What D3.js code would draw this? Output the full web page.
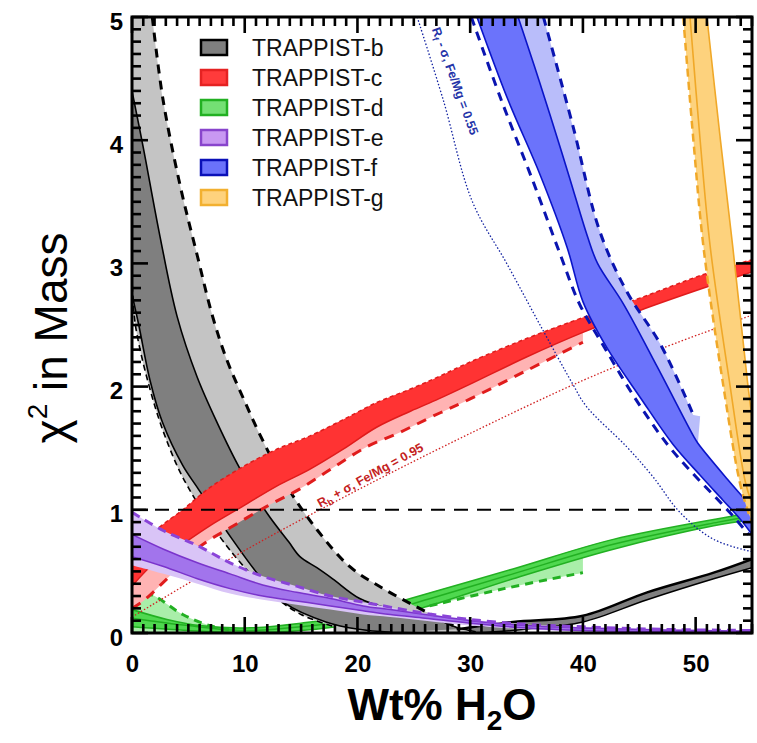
<!DOCTYPE html>
<html>
<head>
<meta charset="utf-8">
<script src="https://cdn.jsdelivr.net/npm/d3@7"></script>
<style>
  body { margin: 0; background: #fff; }
  svg { display: block; font-family: "Liberation Sans", Arial, sans-serif; }
</style>
</head>
<body>
<svg id="chart" width="757" height="743"></svg>
<script>
// ---- data: [wt% H2O, chi^2] ----
const xTicks = [0, 10, 20, 30, 40, 50];
const yTicks = [0, 1, 2, 3, 4, 5];
const xMinor = d3.range(0, 56, 1);
const yMinor = d3.range(0, 51, 1).map(v => v / 10);
const planets = ["TRAPPIST-b", "TRAPPIST-c", "TRAPPIST-d", "TRAPPIST-e", "TRAPPIST-f", "TRAPPIST-g"];

// b (grey)
const bDashR = [[1.8,5],[2.75,4.33],[4.3,3.62],[5.8,3.06],[7.15,2.57],[8.4,2.22],[9.9,1.9],[11.4,1.6],[13.75,1.19],[16.4,0.84],[19.3,0.54],[22.3,0.36],[25.3,0.21],[27,0.13],[28.5,0.06]];
const bDashL = [[0,2.9],[0.3,2.5],[2,1.85],[3.7,1.42],[5,1.18],[7.8,0.78],[10.3,0.5],[12.3,0.32],[15,0.15],[18,0.05]];
const bSolidR = [[0,4.4],[0.98,3.95],[2.48,3.22],[4,2.57],[5.77,2.08],[7.54,1.71],[9.6,1.33],[12,0.97],[13.9,0.74],[14.9,0.62],[16.4,0.53],[17.8,0.44],[20.2,0.28],[23.1,0.19],[26.7,0.12],[29,0.04],[30.5,0.01]];
const bSolidL = [[0,2.75],[0.6,2.5],[1.6,2.05],[2.7,1.71],[4.5,1.36],[5.8,1.18],[8.9,0.76],[11.5,0.44],[13.6,0.24],[17.2,0.09],[20.1,0.03],[23,0.005]];
const bRiseUp = [[28.8,0.03],[33.8,0.09],[40,0.14],[45.7,0.33],[51.6,0.49],[55,0.6]];
const bRiseLo = [[30.5,0],[35,0.03],[40,0.09],[45.7,0.27],[51.6,0.44],[55,0.53]];

// c (red)
const cTop = [[0,0.6],[1,0.72],[2.2,0.84],[4.5,1.0],[6.9,1.18],[9.85,1.35],[12.8,1.49],[15.8,1.6],[18.7,1.73],[21.7,1.87],[24.7,1.98],[27.2,2.08],[30,2.2],[35,2.39],[40,2.56],[45.1,2.72],[50.7,2.91],[55,3.03]];
const cBot = [[0,0.38],[2,0.57],[4.3,0.71],[6.9,0.87],[9.85,1.03],[12.8,1.19],[15.8,1.33],[18.7,1.49],[21.7,1.67],[24.7,1.8],[27.2,1.9],[30,2.02],[35,2.24],[40,2.44],[45.1,2.62],[50.7,2.8],[55,2.93]];
const cDash = [[0,0.2],[1,0.26],[3.1,0.44],[6,0.7],[9,0.87],[12,1.03],[14.9,1.17],[17.8,1.34],[20.8,1.51],[23.8,1.63],[26.7,1.76],[30,1.9],[35,2.13],[40,2.36]];
const cDot = [[0,0.13],[10,0.67],[20,1.16],[30,1.62],[40,2.05],[47,2.31],[55,2.58]];

// d (green)
const dLobe = [[0,0.3],[1.2,0.33],[2.2,0.29],[4.5,0.15],[6.9,0.06],[9,0.02],[11,0]];
const dDashL = [[1.2,0.33],[2.2,0.29],[4.5,0.15],[6.9,0.06],[9,0.02]];
const dDashR = [[26.4,0.22],[33,0.36],[40,0.49]];
const dTop = [[0,0.19],[3.1,0.11],[6,0.06],[10,0.04],[15,0.08],[20,0.15],[24.7,0.28],[33.8,0.52],[42.7,0.76],[53.3,0.95],[55,0.98]];
const dMid = [[0,0.12],[5,0.06],[10,0.02],[15,0.05],[20,0.115],[25,0.24],[33.8,0.48],[42.7,0.72],[52,0.9],[55,0.95]];
const dBot = [[0,0.05],[5,0.02],[10,0],[15,0.02],[20,0.08],[25.6,0.2],[33.8,0.44],[42.7,0.68],[51.6,0.87],[55,0.92]];

// e (purple)
const eDash = [[0,0.98],[2.8,0.83],[5.8,0.71],[8.7,0.57],[11.6,0.46],[14.6,0.38],[17.6,0.3],[20.5,0.25],[22.9,0.21],[26,0.16],[30,0.11],[35,0.07],[40,0.05],[47,0.03],[55,0.02]];
const eTop = [[0,0.8],[2.8,0.68],[5.8,0.57],[8.7,0.48],[11.6,0.39],[14.6,0.33],[17.6,0.28],[20.5,0.22],[22.9,0.19],[26,0.15],[30,0.1],[35,0.06],[40,0.04],[47,0.025],[55,0.015]];
const eBot = [[0,0.62],[2.8,0.54],[5.8,0.44],[8.7,0.36],[11.6,0.3],[14.6,0.26],[17.6,0.22],[20.5,0.18],[22.9,0.15],[26,0.12],[30,0.08],[35,0.04],[40,0.02],[47,0.01],[55,0.005]];
const eLow = [[0,0.55],[2.8,0.48],[5.8,0.4],[8.7,0.32],[11.6,0.27],[14.6,0.23],[17.6,0.19],[20.5,0.15],[22.9,0.13],[26,0.1],[30,0.06],[35,0.03],[40,0.01],[47,0.005],[55,0]];

// f (blue)
const fLeftDash = [[30.1,5],[32.7,4.34],[35.6,3.66],[38,3.07],[39.7,2.67],[41.9,2.32],[44.6,1.91],[47.5,1.53],[49.9,1.28],[52,1.08],[53.6,0.92],[54.7,0.8]];
const fLeftSolid = [[30.6,5],[33.3,4.34],[36.2,3.72],[38.6,3.13],[40,2.69],[42.1,2.32],[45.1,1.91],[48,1.53],[50.4,1.28],[52.4,1.08],[54,0.92],[55,0.8]];
const fRightSolid = [[34.25,5],[35.7,4.6],[37.1,4.2],[38.8,3.7],[40.4,3.22],[41.3,3.0],[43.6,2.67],[46.6,2.16],[49.8,1.6],[50.2,1.54],[52.8,1.25],[55,1.02]];
const fRightDash = [[36.5,5],[39.1,4.12],[41.5,3.26],[43.9,2.77],[46.9,2.34],[49.8,1.77]];
const fDot = [[25.3,5],[27.6,4.33],[30.2,3.5],[33.3,2.99],[36.2,2.5],[39.1,2.02],[40.3,1.84],[43.9,1.51],[46.2,1.27],[48.6,0.98],[51.6,0.76],[55,0.66]];

// g (orange)
const gLeftDash = [[48.9,5],[49.8,4],[50.7,3.13],[52.4,2.04],[53.9,1.23],[54.6,1],[55,0.9]];
const gMid = [[49.5,5],[50.4,4],[51.3,3.13],[53,2.04],[54.4,1.23],[55,1.05]];
const gRight = [[51,5],[52.2,4],[53.3,3.13],[54.6,2.04],[55,1.75]];

// ---- layout ----
const svg = d3.select("#chart");
const x = d3.scaleLinear().domain([0, 55]).range([132, 752]);
const y = d3.scaleLinear().domain([0, 5]).range([633, 17]);

const smooth = d3.line().x(d => x(d[0])).y(d => y(d[1])).curve(d3.curveCatmullRom.alpha(0.5));
const rev = a => a.slice().reverse();
function poly(...segs) {
  return segs.map((s, i) => {
    const p = s.length > 1 ? smooth(s) : `M${x(s[0][0])},${y(s[0][1])}`;
    return i ? "L" + p.slice(1) : p;
  }).join("") + "Z";
}

svg.append("clipPath").attr("id", "plot")
  .append("rect").attr("x", x(0)).attr("y", y(5)).attr("width", x(55) - x(0)).attr("height", y(0) - y(5));
const g = svg.append("g").attr("clip-path", "url(#plot)");

function fill(d, color) { g.append("path").attr("d", d).attr("fill", color).attr("stroke", "none"); }
function line(pts, color, width, dash) {
  g.append("path").attr("d", smooth(pts)).attr("fill", "none").attr("stroke", color)
    .attr("stroke-width", width).attr("stroke-dasharray", dash || null);
}

// green
fill(poly(dLobe, [[0, 0]]), "#a9eea9");
fill(poly([[25.6,0.2],[33.8,0.44],[40,0.62]], rev(dDashR)), "#a9eea9");
fill(poly(dTop, rev(dBot)), "#4fd84f");
line(dTop, "#22b022", 1.5);
line(dMid, "#22b022", 1.5);
line(dBot, "#22b022", 1.5);
line(dDashL, "#22b022", 3, "8,6");
line(dDashR, "#22b022", 3, "8,6");

// grey
fill(poly([[0, 5]], bDashR, [[30, 0], [18, 0]], rev(bDashL)), "#c4c4c4");
fill(poly(bSolidR, bRiseLo, rev(bRiseUp), rev(bSolidL)), "#7f7f7f");
line(bSolidR, "#000", 1.6);
line(bSolidL, "#000", 1.6);
line(bRiseUp, "#000", 2.5);
line(bRiseLo, "#000", 1.5);
line(bDashR, "#000", 3, "9,7");
line(bDashL, "#000", 1.6, "6,4");

// red
fill(poly(cBot.filter(d => d[0] <= 40), rev(cDash)), "#ffb3b3");
fill(poly(cTop, rev(cBot)), "#ff3333");
line(cTop, "#e01c1c", 1.5, "4,3");
line(cBot, "#e01c1c", 1.5);
line(cDash, "#e01c1c", 3, "10,8");
line(cDot, "#d02020", 1.3, "1.5,2");

// purple
fill(poly(eDash, rev(eLow)), "#d9c4f7");
fill(poly(eTop, rev(eBot)), "#a274ec");
line(eTop, "#7a34cc", 1.5);
line(eBot, "#7a34cc", 1.5);
line(eDash, "#8a44d8", 3, "9,6");

// blue
fill(poly(fRightSolid.slice(0, 10), [[50.4, 1.76]], rev(fRightDash)), "#b9bdfa");
fill(poly(fLeftSolid, rev(fRightSolid)), "#6b73fb");
line(fLeftSolid, "#0a14c8", 1.6);
line(fRightSolid, "#0a14c8", 1.6);
line(fLeftDash, "#0a14b0", 3, "9,7");
line(fRightDash, "#0a14b0", 3, "9,7");
line(fDot, "#1020a0", 1.3, "1.5,2");

// orange
fill(poly(gLeftDash, [[55, 1.75]], rev(gRight)), "#fdd27d");
line(gMid, "#f0a828", 1.6);
line(gRight, "#f0a828", 1.6);
line(gLeftDash, "#f0a828", 2.5, "8,5");

// chi^2 = 1 reference
g.append("line").attr("x1", x(0)).attr("x2", x(55)).attr("y1", y(1)).attr("y2", y(1))
  .attr("stroke", "#000").attr("stroke-width", 2).attr("stroke-dasharray", "14,9");

// ticks inward on all four sides
const lenX = d => (d % 10 === 0 ? 16 : 9);
const lenY = d => (Math.abs(d - Math.round(d)) < 1e-6 ? 16 : 9);
const tickRects = [];
xMinor.forEach(d => {
  tickRects.push({ x: x(d) - 1.3, y: y(0) - lenX(d), w: 2.6, h: lenX(d) });
  tickRects.push({ x: x(d) - 1.3, y: y(5), w: 2.6, h: lenX(d) });
});
yMinor.forEach(d => {
  tickRects.push({ x: x(0), y: y(d) - 1.3, w: lenY(d), h: 2.6 });
  tickRects.push({ x: x(55) - lenY(d), y: y(d) - 1.3, w: lenY(d), h: 2.6 });
});
svg.append("g").selectAll("rect").data(tickRects).join("rect")
  .attr("x", d => d.x).attr("y", d => d.y).attr("width", d => d.w).attr("height", d => d.h)
  .attr("fill", "#000");

// curve annotations
const redLab = svg.append("text").attr("transform", `translate(${x(16.7)},${y(1.0) - 2}) rotate(-29)`)
  .attr("fill", "#c42222").attr("font-size", 12.5).attr("font-weight", "bold");
redLab.append("tspan").text("R");
redLab.append("tspan").attr("font-size", 9).attr("dy", 3).text("b");
redLab.append("tspan").attr("dy", -3).text(" + σ, Fe/Mg = 0.95");

const blueLab = svg.append("text").attr("transform", `translate(${x(26.6)},${y(4.9)}) rotate(70)`)
  .attr("fill", "#2434a8").attr("font-size", 12.5).attr("font-weight", "bold");
blueLab.append("tspan").text("R");
blueLab.append("tspan").attr("font-size", 9).attr("dy", 3).text("f");
blueLab.append("tspan").attr("dy", -3).text(" - σ, Fe/Mg = 0.55");

// tick labels via d3 axes
function styleAxis(sel) {
  sel.select(".domain").remove();
  sel.selectAll(".tick line").remove();
  sel.selectAll("text").attr("font-size", 24).attr("font-weight", "bold").attr("fill", "#000")
    .attr("font-family", "'Liberation Sans', Arial, sans-serif");
}
svg.append("g").attr("transform", `translate(0,${y(0)})`)
  .call(d3.axisBottom(x).tickValues(xTicks).tickSize(0).tickPadding(22).tickFormat(d3.format("d"))).call(styleAxis);
const yl = svg.append("g").attr("transform", `translate(${x(0)},0)`)
  .call(d3.axisLeft(y).tickValues(yTicks).tickSize(0).tickPadding(9).tickFormat(d3.format("d"))).call(styleAxis);
yl.selectAll("text").attr("dy", "0.5em");

// frame
svg.append("rect").attr("x", x(0)).attr("y", y(5)).attr("width", x(55) - x(0)).attr("height", y(0) - y(5))
  .attr("fill", "none").attr("stroke", "#000").attr("stroke-width", 3);

// axis titles
const xt = svg.append("text").attr("x", 442).attr("y", 720).attr("text-anchor", "middle")
  .attr("font-size", 44).attr("font-weight", "bold").attr("fill", "#000");
xt.append("tspan").text("Wt% H");
xt.append("tspan").attr("font-size", 28).attr("dy", 10).text("2");
xt.append("tspan").attr("dy", -10).text("O");

const yt = svg.append("text").attr("transform", "translate(67,338) rotate(-90)").attr("text-anchor", "middle")
  .attr("font-size", 46).attr("fill", "#000");
yt.append("tspan").text("χ");
yt.append("tspan").attr("font-size", 28).attr("dy", -20).text("2");
yt.append("tspan").attr("dy", 20).text(" in Mass");

// legend
const legFill = ["#7f7f7f", "#ff3b3b", "#74e074", "#c898f2", "#6a72fb", "#fed27d"];
const legStroke = ["#000", "#e52222", "#22b022", "#8844cc", "#0a10b8", "#f2b030"];
const leg = svg.append("g");
planets.forEach((name, i) => {
  const cy = 48 + i * 30;
  leg.append("rect").attr("x", 201).attr("y", cy - 8).attr("width", 26).attr("height", 15)
    .attr("fill", legFill[i]).attr("stroke", legStroke[i]).attr("stroke-width", 2.5);
  leg.append("text").attr("x", 252).attr("y", cy + 8).attr("font-size", 23).attr("fill", "#111").text(name);
});
</script>
</body>
</html>
